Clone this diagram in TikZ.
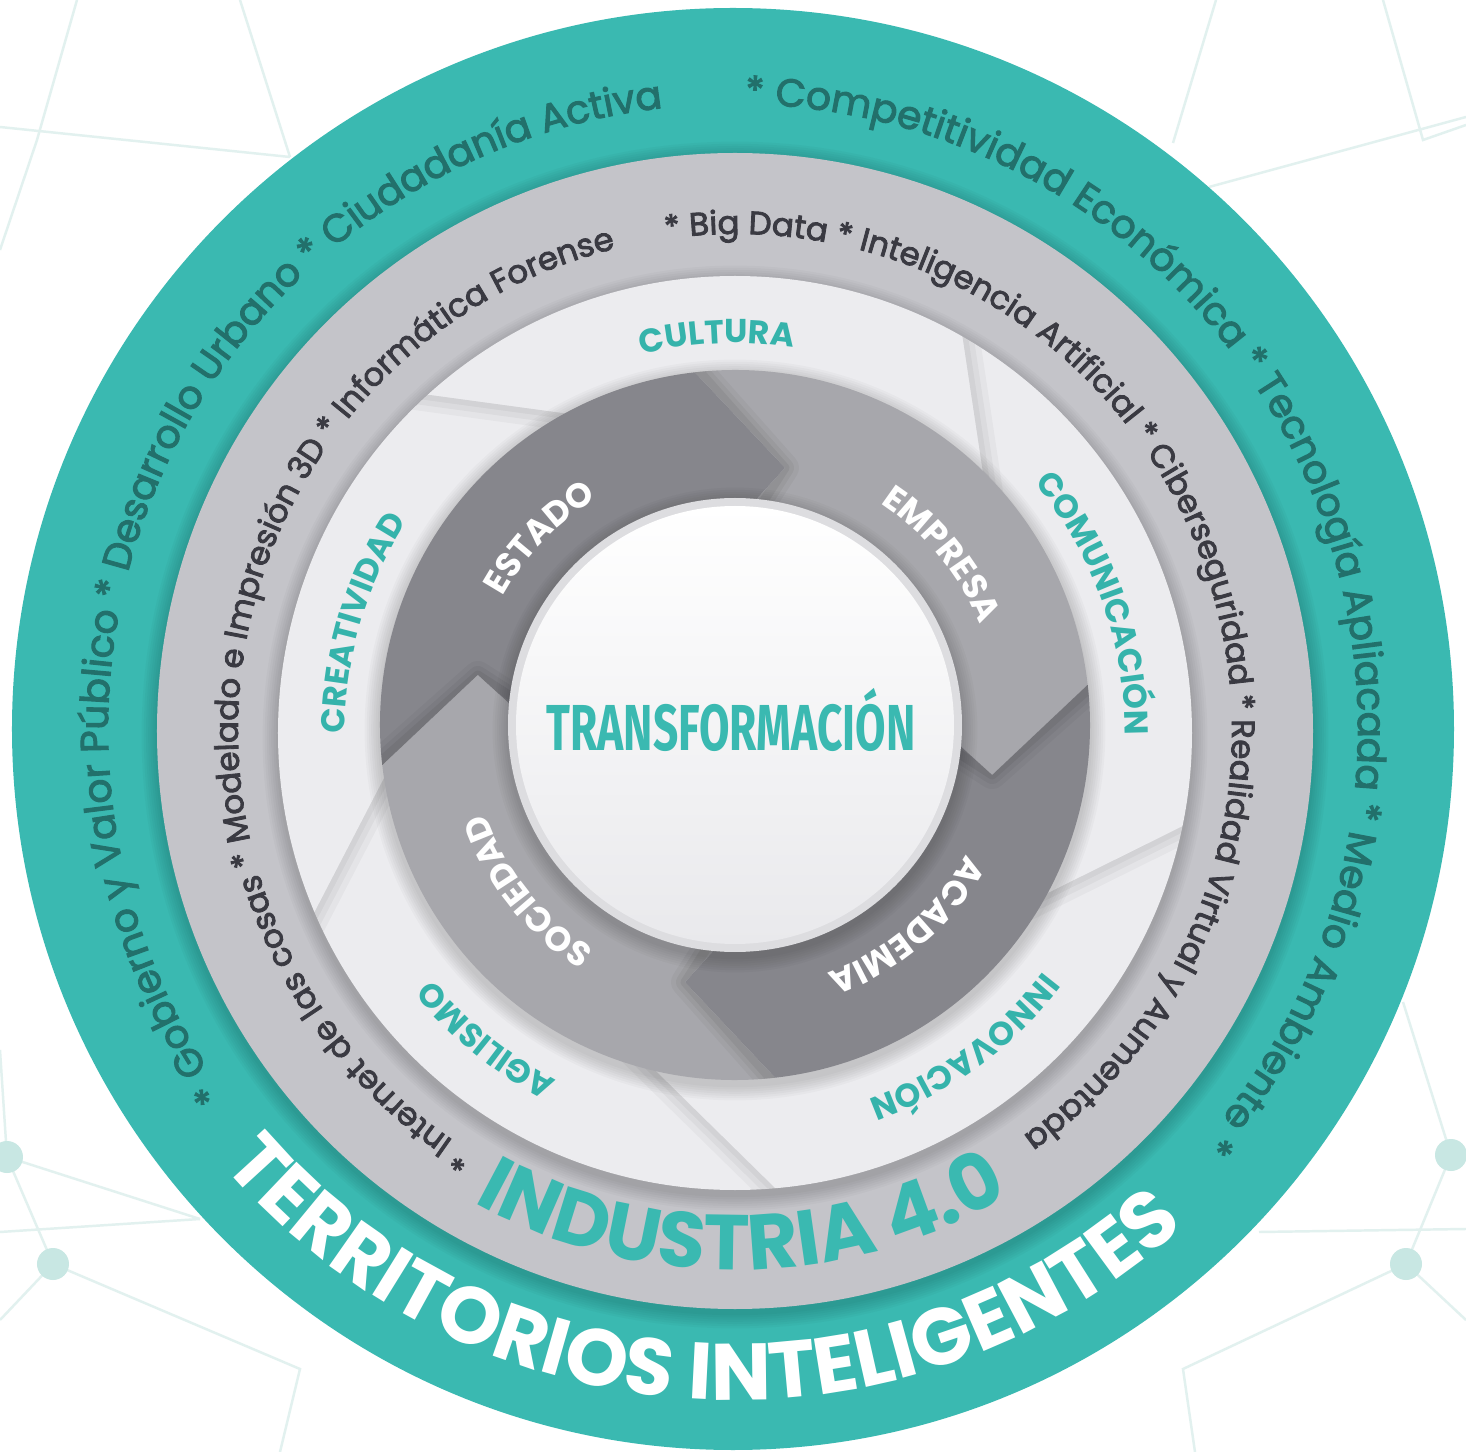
\documentclass[tikz,border=0pt]{standalone}
\usepackage{fontspec}
\usepackage{graphicx}
\usetikzlibrary{decorations.text,calc}
\setmainfont{Poppins}
\newfontfamily\ringfont{Poppins}[FakeBold=2.6]
\newfontfamily\firafont{Fira Sans}
\definecolor{teal1}{HTML}{3AB9B1}
\definecolor{tealtxt}{HTML}{22706B}
\definecolor{ringgray}{HTML}{C4C4C9}
\definecolor{graytxt}{HTML}{3A3A42}
\definecolor{lightring}{HTML}{ECECEF}
\definecolor{labteal}{HTML}{35B3AB}
\definecolor{darkarrow}{HTML}{86868C}
\definecolor{medarrow}{HTML}{A7A7AC}
\definecolor{netline}{HTML}{E2F1EF}
\definecolor{netdot}{HTML}{C8E7E3}
\definecolor{rimgray}{HTML}{DDDDE0}
\definecolor{innergray}{HTML}{E9E9EC}
\newcommand\tealringfont{\ringfont\fontsize{11.1}{13}\selectfont}
\newcommand\grayringfont{\ringfont\fontsize{9.2}{11}\selectfont}
\newcommand\labfont{\fontsize{9.4}{11}\selectfont\bfseries}
\newcommand\arrfont{\fontsize{9.8}{11}\selectfont\bfseries}
\newcommand\bigfontA{\fontsize{22.8}{26}\selectfont\bfseries}
\newcommand\bigfontB{\fontsize{22.2}{26}\selectfont\bfseries}
\tikzset{
 fittext/.style={decorate, decoration={text along path, text align={fit to path stretching spaces}}},
 centext/.style={decorate, decoration={text along path, text align=center}},
 netl/.style={draw=netline, line width=0.7pt},
 netd/.style={fill=netdot},
}
\def\pEstado{(186.5:3.55) arc[start angle=186.5, end angle=96.5, radius=3.55] -- (79:2.62) -- (85.5:2.22) arc[start angle=85.5, end angle=175.5, radius=2.22] -- (169:2.62) -- cycle}
\def\pEmpresa{(96.5:3.55) arc[start angle=96.5, end angle=6.5, radius=3.55] -- (-11:2.62) -- (-4.5:2.22) arc[start angle=-4.5, end angle=85.5, radius=2.22] -- (79:2.62) -- cycle}
\def\pAcademia{(6.5:3.55) arc[start angle=6.5, end angle=-83.5, radius=3.55] -- (-101:2.62) -- (-94.5:2.22) arc[start angle=-94.5, end angle=-4.5, radius=2.22] -- (-11:2.62) -- cycle}
\def\pSociedad{(-83.5:3.55) arc[start angle=-83.5, end angle=-173.5, radius=3.55] -- (-191:2.62) -- (-184.5:2.22) arc[start angle=-184.5, end angle=-94.5, radius=2.22] -- (-101:2.62) -- cycle}
\newcommand\softshadow[3]{\foreach \ss in {1,...,7}{\fill[black,opacity=0.022] ($(#1)+(0,-#3)$) circle ({#2+0.022*\ss});}}
\newcommand\headshadow[2]{\begin{scope}\clip #1;\foreach \w/\o in {0.28/0.035,0.18/0.045,0.09/0.055}{\draw[line width=\w cm, black, opacity=\o, line join=round, line cap=round] #2;}\end{scope}}
\newcommand\flapshadow[3]{\begin{scope}
 \clip (L) circle (4.57);
 \coordinate (fa) at ($(#1)!-0.5!(#2)$);
 \coordinate (fb) at ($(#1)!1.5!(#2)$);
 \coordinate (fc) at ($(fa)!1.5cm!#3:(fb)$);
 \coordinate (fe) at ($(fb)+(fc)-(fa)$);
 \clip (fa) -- (fb) -- (fe) -- (fc) -- cycle;
 \foreach \w/\o in {0.34/0.03,0.22/0.035,0.11/0.04}{\draw[line width=\w cm, black, opacity=\o] (fa) -- (fb);}
 \end{scope}}
\begin{document}
\begin{tikzpicture}
\useasboundingbox (-7.35,-7.27) rectangle (7.31,7.25);
\clip (-7.35,-7.27) rectangle (7.31,7.25);
\fill[white] (-7.35,-7.27) rectangle (7.31,7.25);
% background network
\draw[netl] (-7.35,5.98) -- (-4.45,5.68);
\draw[netl] (-6.58,7.25) -- (-6.98,5.85) -- (-7.35,4.75);
\draw[netl] (-4.95,7.25) -- (-4.45,5.68);
\draw[netl] (4.81,7.25) -- (4.38,5.82);
\draw[netl] (6.48,7.25) -- (6.88,5.85) -- (7.31,6.0);
\draw[netl] (4.74,5.38) -- (7.31,6.08);
\draw[netl] (-7.35,-3.25) -- (-7.28,-4.32) -- (-6.82,-5.39) -- (-4.35,-6.44) -- (-4.55,-7.27);
\draw[netl] (-7.35,-5.07) -- (-5.35,-4.94);
\draw[netl] (-6.82,-5.39) -- (-7.35,-5.95);
\draw[netl] (-7.28,-4.32) -- (-5.35,-4.94);
\draw[netl] (6.68,-2.77) -- (7.16,-4.30) -- (6.71,-5.39) -- (4.48,-6.44) -- (4.60,-7.27);
\draw[netl] (5.24,-5.07) -- (7.31,-5.04);
\draw[netl] (6.71,-5.39) -- (7.31,-5.95);
\fill[netd] (-7.28,-4.32) circle (0.16);
\fill[netd] (-6.82,-5.39) circle (0.16);
\fill[netd] (7.16,-4.30) circle (0.16);
\fill[netd] (6.71,-5.39) circle (0.16);
% centres
\coordinate (T) at (-0.02,-0.04);
\coordinate (G) at (0,-0.06);
\coordinate (L) at (0,-0.08);
\coordinate (O) at (0,0);
% teal ring
\fill[teal1] (T) circle (7.21);
\path[fittext, decoration={text={|\tealringfont|* Gobierno y Valor Público * Desarrollo Urbano * Ciudadanía Activa}, text color=tealtxt}] ($(T)+(215.6:6.25)$) arc[start angle=215.6, end angle=96.9, radius=6.25];
\path[fittext, decoration={text={|\tealringfont|* Competitividad Económica * Tecnología Apliacada * Medio Ambiente *}, text color=tealtxt}] ($(T)+(88.9:6.25)$) arc[start angle=88.9, end angle=-41.3, radius=6.25];
\path[centext, decoration={text={|\bigfontA|TERRITORIOS INTELIGENTES}, text color=white}] ($(T)+(208.4:6.71)$) arc[start angle=208.4, end angle=324.4, radius=6.71];
% gray ring
\softshadow{G}{5.78}{0.04}
\fill[ringgray] (G) circle (5.78);
\path[fittext, decoration={text={|\grayringfont|* Internet de las cosas * Modelado e Impresión 3D * Informática Forense}, text color=graytxt}] ($(G)+(238.3:4.97)$) arc[start angle=238.3, end angle=103.9, radius=4.97];
\path[fittext, decoration={text={|\grayringfont|* Big Data * Inteligencia Artificial * Ciberseguridad * Realidad Virtual y Aumentada *}, text color=graytxt}] ($(G)+(98:4.97)$) arc[start angle=98, end angle=-56.4, radius=4.97];
\path[centext, decoration={text={|\bigfontB|INDUSTRIA 4.0}, text color=teal1}] ($(G)+(225.8:5.39)$) arc[start angle=225.8, end angle=315.8, radius=5.39];
% light ring
\softshadow{L}{4.57}{0.05}
\fill[lightring] (L) circle (4.57);
\coordinate (I1) at (-1.73,3.12); \coordinate (O1) at (-3.05,3.30);
\coordinate (I2) at (2.48,2.52);  \coordinate (O2) at (2.28,3.85);
\coordinate (I3) at (3.15,-1.67); \coordinate (O3) at (4.46,-1.02);
\coordinate (I4) at (-0.68,-3.57); \coordinate (O4) at (0.42,-4.65);
\coordinate (I5) at (-3.53,-0.57); \coordinate (O5) at (-4.23,-1.92);
\flapshadow{I1}{O1}{90}
\flapshadow{I2}{O2}{-90}
\flapshadow{I3}{O3}{-90}
\flapshadow{I4}{O4}{-90}
\flapshadow{I5}{O5}{90}
\path[centext, decoration={text={|\labfont|CULTURA}, text color=labteal}] ($(L)+(132.6:3.90)$) arc[start angle=132.6, end angle=52.6, radius=3.90];
\path[centext, decoration={text={|\labfont|COMUNICACIÓN}, text color=labteal}] ($(L)+(69.8:3.90)$) arc[start angle=69.8, end angle=-30.2, radius=3.90];
\path[centext, decoration={text={|\labfont|INNOVACIÓN}, text color=labteal}] ($(L)+(-3.9:3.90)$) arc[start angle=-3.9, end angle=-103.9, radius=3.90];
\path[centext, decoration={text={|\labfont|AGILISMO}, text color=labteal}] ($(L)+(276:3.90)$) arc[start angle=276, end angle=186, radius=3.90];
\path[centext, decoration={text={|\labfont|CREATIVIDAD}, text color=labteal}] ($(L)+(213.6:3.90)$) arc[start angle=213.6, end angle=113.6, radius=3.90];
% arrow ring
\softshadow{O}{3.55}{0.05}
\fill[darkarrow] \pEstado;
\fill[medarrow] \pEmpresa;
\fill[darkarrow] \pAcademia;
\fill[medarrow] \pSociedad;
\headshadow{\pEmpresa}{(96.5:3.62) -- (79:2.62) -- (85.5:2.05)}
\headshadow{\pAcademia}{(6.5:3.62) -- (-11:2.62) -- (-4.5:2.05)}
\headshadow{\pSociedad}{(-83.5:3.62) -- (-101:2.62) -- (-94.5:2.05)}
\headshadow{\pEstado}{(-173.5:3.62) -- (-191:2.62) -- (-184.5:2.05)}
% centre circle
\softshadow{O}{2.27}{0.05}
\fill[rimgray] (O) circle (2.27);
\shade[top color=white, bottom color=innergray] (O) circle (2.19);
\node[font=\firafont\bfseries\fontsize{18.5}{20}\selectfont, text=teal1, anchor=base, inner sep=0pt] (trans) at (-0.04,-0.25) {\scalebox{0.68}[1]{TRANSFORMACIÓN}};
% arrow labels
\path[centext, decoration={text={|\arrfont|ESTADO}, text color=white}] (176.2:2.65) arc[start angle=176.2, end angle=96.2, radius=2.65];
\path[centext, decoration={text={|\arrfont|EMPRESA}, text color=white}] (79.5:2.65) arc[start angle=79.5, end angle=-0.5, radius=2.65];
\path[centext, decoration={text={|\arrfont|ACADEMIA}, text color=white}] (-9.4:2.65) arc[start angle=-9.4, end angle=-89.4, radius=2.65];
\path[centext, decoration={text={|\arrfont|SOCIEDAD}, text color=white}] (258.7:2.65) arc[start angle=258.7, end angle=178.7, radius=2.65];
\end{tikzpicture}
\end{document}
